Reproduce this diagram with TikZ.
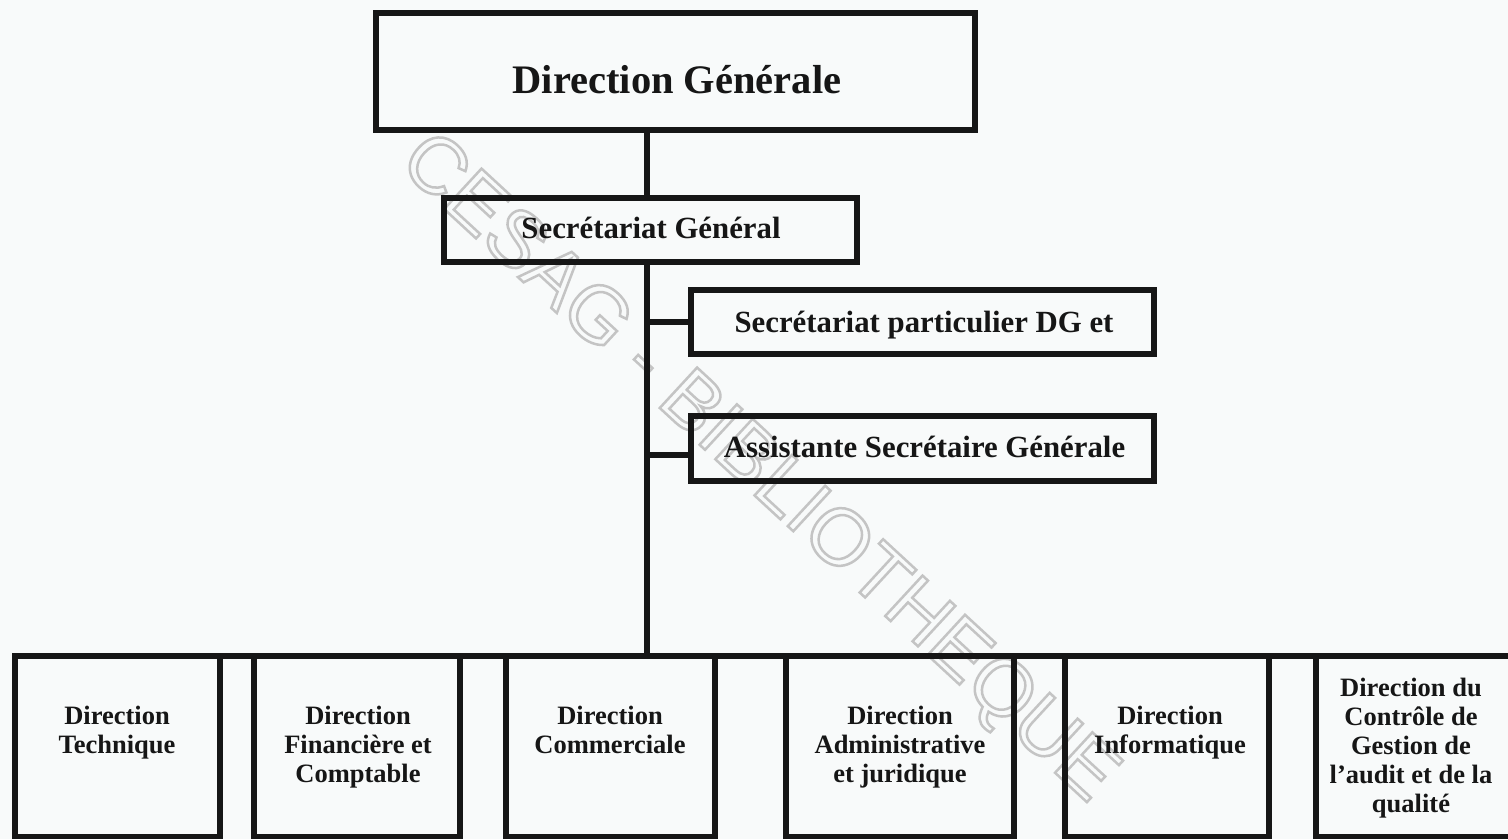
\documentclass[tikz,border=0pt]{standalone}
\usepackage{fontspec}
\setmainfont{Liberation Serif}
\newfontfamily\wmfont{Liberation Sans}
\definecolor{ink}{HTML}{161616}
\definecolor{paper}{HTML}{F8FAFA}
\definecolor{wmgray}{HTML}{C4C4C4}
\begin{document}
\begin{tikzpicture}[x=1pt,y=-1pt,
  box/.style={draw=ink, line width=5.5pt, inner sep=0pt, outer sep=0pt, rectangle},
  link/.style={draw=ink, line width=6pt},
  ttop/.style={font=\bfseries\fontsize{40.5}{48}\selectfont, text=ink, inner sep=0pt, anchor=base},
  tmid/.style={font=\bfseries\fontsize{30.8}{36}\selectfont, text=ink, inner sep=0pt, anchor=base},
  tbot/.style={font=\bfseries\fontsize{26.5}{29}\selectfont, text=ink, inner sep=0pt, anchor=north, align=center}
]
\fill[paper] (0,0) rectangle (1508,839);
\useasboundingbox (0,0) rectangle (1508,839);

% watermark (outlined letters)
\node[font=\wmfont\fontsize{80}{90}\selectfont, text=wmgray, rotate=-42.7, inner sep=0pt] (wm) at (757,470)
  {\special{pdf:literal direct 1 Tr 2.5 w}CESAG - BIBLIOTHEQUE\special{pdf:literal direct 0 Tr 1 w}};

% top boxes
\node[box, minimum width=599pt, minimum height=117pt] (dg) at (675.5,71.5) {};
\node[box, minimum width=413pt, minimum height=64pt] (sg) at (650.5,230) {};
\node[box, minimum width=463pt, minimum height=64pt] (sp) at (922.5,322) {};
\node[box, minimum width=463pt, minimum height=65pt] (asg) at (922.5,448.5) {};

% bottom boxes
\node[box, minimum width=205pt, minimum height=181pt] (b1) at (117.5,746) {};
\node[box, minimum width=206pt, minimum height=181pt] (b2) at (357,746) {};
\node[box, minimum width=209pt, minimum height=181pt] (b3) at (610.5,746) {};
\node[box, minimum width=228pt, minimum height=181pt] (b4) at (900,746) {};
\node[box, minimum width=204pt, minimum height=181pt] (b5) at (1167,746) {};
\node[box, minimum width=198pt, minimum height=181pt] (b6) at (1415,746) {};

% texts
\node[ttop] (tdg) at (677,93) {Direction Générale};
\node[tmid] (tsg) at (651,238) {Secrétariat Général};
\node[tmid] (tsp) at (924,332) {Secrétariat particulier DG et};
\node[tmid] (tasg) at (924.5,457) {Assistante Secrétaire Générale};

\node[tbot] (t1) at (117,706) {Direction\\Technique};
\node[tbot] (t2) at (358,706) {Direction\\Financière et\\Comptable};
\node[tbot] (t3) at (610,706) {Direction\\Commerciale};
\node[tbot] (t4) at (900,706) {Direction\\Administrative\\et juridique};
\node[tbot] (t5) at (1170,706) {Direction\\Informatique};
\node[tbot] (t6) at (1411,678) {Direction du\\Contrôle de\\Gestion de\\l’audit et de la\\qualité};

% connectors
\coordinate (tr) at (647,0);
\draw[link] (tr |- dg.south) -- (tr |- sg.north);
\draw[link] (tr |- sg.south) -- (tr |- b3.north);
\draw[link] (tr |- sp.west) -- (sp.west);
\draw[link] (tr |- 0,455) -- (asg.west |- 0,455);
\draw[link] (b1.north west) -- (b6.north east);
\end{tikzpicture}
\end{document}
